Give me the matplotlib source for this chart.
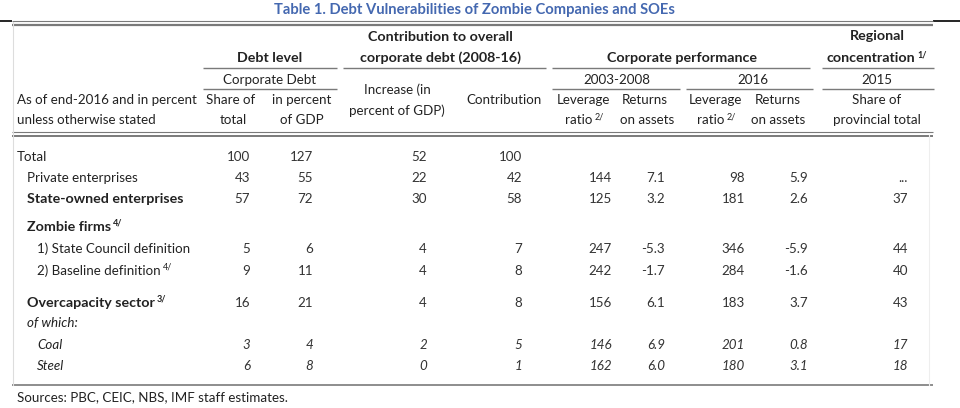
import matplotlib
matplotlib.use("Agg")
import matplotlib.pyplot as plt

plt.rcParams['font.family'] = ['Lato', 'DejaVu Sans']

# Table contents
title = "Table 1. Debt Vulnerabilities of Zombie Companies and SOEs"
row_labels = ["Total", "Private enterprises", "State-owned enterprises", "Zombie firms",
              "1) State Council definition", "2) Baseline definition", "Overcapacity sector",
              "of which:", "Coal", "Steel"]
row_notes = ["", "", "", "4/", "", "4/", "3/", "", "", ""]
row_style = ["normal", "normal", "bold", "bold", "normal", "normal", "bold", "italic", "italic", "italic"]
share_total = ["100", "43", "57", "", "5", "9", "16", "", "3", "6"]
pct_gdp = ["127", "55", "72", "", "6", "11", "21", "", "4", "8"]
increase_gdp = ["52", "22", "30", "", "4", "4", "4", "", "2", "0"]
contribution = ["100", "42", "58", "", "7", "8", "8", "", "5", "1"]
leverage_0308 = ["", "144", "125", "", "247", "242", "156", "", "146", "162"]
roa_0308 = ["", "7.1", "3.2", "", "-5.3", "-1.7", "6.1", "", "6.9", "6.0"]
leverage_2016 = ["", "98", "181", "", "346", "284", "183", "", "201", "180"]
roa_2016 = ["", "5.9", "2.6", "", "-5.9", "-1.6", "3.7", "", "0.8", "3.1"]
regional = ["", "...", "37", "", "44", "40", "43", "", "17", "18"]
source_note = "Sources: PBC, CEIC, NBS, IMF staff estimates."

# layout (pixels)
row_y = [157, 178, 199, 227, 249, 271, 303, 323, 345, 366]
label_x = [17, 27, 27, 27, 37, 37, 27, 27, 37, 37]
columns = [share_total, pct_gdp, increase_gdp, contribution, leverage_0308,
           roa_0308, leverage_2016, roa_2016, regional]
col_right = [250, 313, 427, 522, 612, 665, 745, 808, 908]

FS = 9.6
FSB = 10.3  # bold text is a bit wider in the original
TXT = '#222222'
LINE = '#7a7a7a'

fig = plt.figure(figsize=(9.6, 4.08), dpi=100)
ax = fig.add_axes([0, 0, 1, 1])
ax.set_xlim(0, 960)
ax.set_ylim(408, 0)
ax.axis('off')
renderer = fig.canvas.get_renderer()


def put(x, y, s, ha='center', weight='normal', style='normal', size=None, color=TXT):
    if size is None:
        size = FSB if weight == 'bold' else FS
    return ax.text(x, y, s, ha=ha, va='center', fontsize=size, fontweight=weight,
                   fontstyle=style, color=color)


def sup(t, s, weight='normal'):
    # small superscript placed right after a text object
    bb = t.get_window_extent(renderer).transformed(ax.transData.inverted())
    x1 = max(bb.x0, bb.x1)
    ytop = min(bb.y0, bb.y1)
    ax.text(x1 + 2, ytop + 2.5, s, ha='left', va='center', fontsize=6.5,
            fontweight=weight, color=TXT)


def hline(x0, x1, y, lw=1.0, color=LINE):
    ax.plot([x0, x1], [y, y], color=color, lw=lw, solid_capstyle='butt')


# title
put(474, 10, title, weight='bold', size=10.6, color='#4468b0')

# frame lines
hline(0, 12, 20.5, lw=1.2, color='black')
hline(933, 960, 20.5, lw=1.2, color='black')
hline(12, 933, 20.5, lw=0.8)
hline(12, 933, 24.5, lw=1.6)
hline(12, 933, 132, lw=0.8)
hline(12, 933, 135.5, lw=1.4)
hline(12, 933, 385, lw=1.2)
ax.plot([12.5, 12.5], [22, 385], color='#dddddd', lw=0.8)
ax.plot([929, 929], [135, 385], color='#eeeeee', lw=0.8)

# column group headers
put(270, 58, "Debt level", weight='bold')
put(440, 37, "Contribution to overall", weight='bold')
put(440, 58, "corporate debt (2008-16)", weight='bold')
put(682, 58, "Corporate performance", weight='bold')
put(877, 36, "Regional", weight='bold')
sup(put(871, 58, "concentration", weight='bold'), "1/", weight='bold')
for x0, x1 in [(203, 337), (343, 546), (552, 810), (822, 934)]:
    hline(x0, x1, 67.5, lw=1.0)

put(270, 80, "Corporate Debt")
put(617, 80, "2003-2008")
put(753, 80, "2016")
put(877, 80, "2015")
for x0, x1 in [(203, 337), (552, 680), (686, 813), (822, 934)]:
    hline(x0, x1, 89, lw=1.0)

# column headers
put(17, 100, "As of end-2016 and in percent", ha='left')
put(17, 120, "unless otherwise stated", ha='left')
put(231, 100, "Share of")
put(233, 120, "total")
put(302, 100, "in percent")
put(302, 120, "of GDP")
put(397, 90, "Increase (in")
put(397, 111, "percent of GDP)")
put(504, 100, "Contribution")
put(583, 100, "Leverage")
sup(put(579, 120, "ratio"), "2/")
put(645, 100, "Returns")
put(647, 120, "on assets")
put(715, 100, "Leverage")
sup(put(711, 120, "ratio"), "2/")
put(778, 100, "Returns")
put(778, 120, "on assets")
put(877, 100, "Share of")
put(877, 120, "provincial total")

# body rows
for i, label in enumerate(row_labels):
    st = row_style[i]
    w = 'bold' if st == 'bold' else 'normal'
    it = 'italic' if st == 'italic' else 'normal'
    t = put(label_x[i], row_y[i], label, ha='left', weight=w, style=it)
    if row_notes[i]:
        sup(t, row_notes[i], weight=w)
    for col, xr in zip(columns, col_right):
        put(xr, row_y[i], col[i], ha='right', style=it, color='#333333')

put(17, 397, source_note, ha='left')

fig.savefig('out.png', dpi=100)
